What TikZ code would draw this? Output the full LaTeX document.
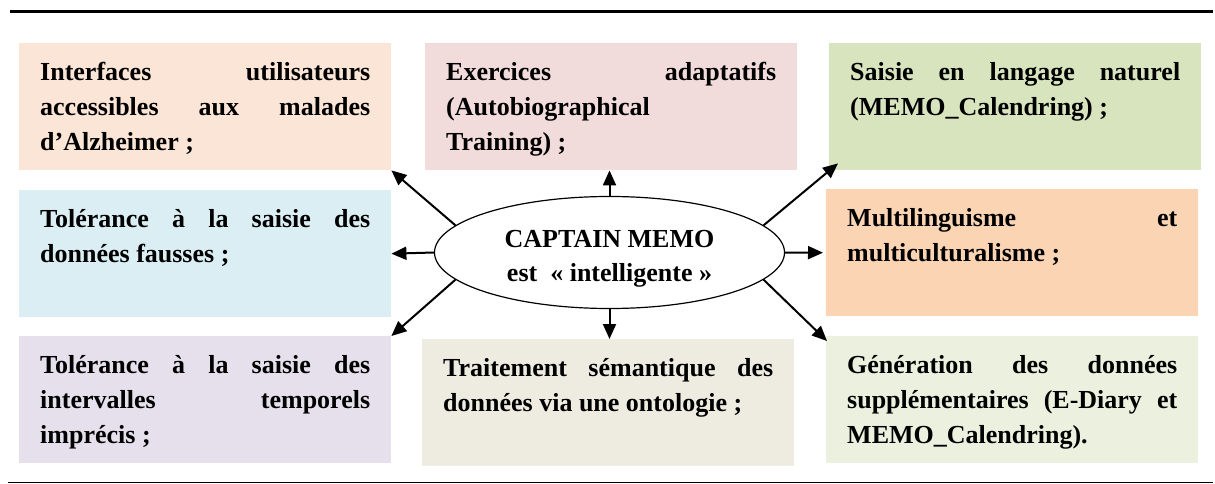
\documentclass[tikz,border=0pt]{standalone}
\usepackage{fontspec}
\setmainfont{Liberation Serif}
\usepackage{tikz}
\usetikzlibrary{positioning,calc}
\usetikzlibrary{arrows.meta,shapes.geometric}
\definecolor{PeachBox}{HTML}{FBE5D6}
\definecolor{RoseBox}{HTML}{F2DCDB}
\definecolor{OliveBox}{HTML}{D7E4BD}
\definecolor{SkyBox}{HTML}{DAEEF3}
\definecolor{OrangeBox}{HTML}{FBD4B4}
\definecolor{LilacBox}{HTML}{E5E0EC}
\definecolor{SandBox}{HTML}{EEECE1}
\definecolor{MintBox}{HTML}{EBF1DE}
\tikzset{
  feature/.style={anchor=north west,inner xsep=21pt,inner ysep=18pt,
    text width=330pt,align=justify,text height=19pt,text depth=72pt,
    font=\fontsize{26}{35}\selectfont\bfseries},
  core/.style={ellipse,draw=black,line width=1.2pt,fill=white,inner sep=0pt,
    minimum width=350pt,minimum height=112pt,align=center,text height=63pt,
    text depth=6pt,font=\fontsize{26}{34}\selectfont\bfseries},
  link/.style={draw=black,line width=2pt,-{Triangle[length=15pt,width=13pt]}},
}

\begin{document}
\begin{tikzpicture}[x=1pt,y=-1pt]
\useasboundingbox (0,0) rectangle (1215,484);
\draw[line width=3pt] (10,11.5) -- (1213,11.5);
\draw[line width=1.2pt] (8,482.5) -- (1213,482.5);
\node[feature,fill=PeachBox] (interfaces) at (19,43) {Interfaces utilisateurs\linebreak accessibles aux malades\linebreak d’Alzheimer ;};
\node[feature,fill=SkyBox] (fausses) at (19,190) {Tolérance à la saisie des\linebreak données fausses ;};
\node[feature,fill=LilacBox] (intervalles) at (19,336) {Tolérance à la saisie des\linebreak intervalles temporels\linebreak imprécis ;};
\node[feature,fill=RoseBox] (exercices) at (425,43) {Exercices adaptatifs\linebreak (Autobiographical\\ Training) ;};
\node[feature,fill=SandBox] (semantique) at (422,339) {Traitement sémantique des\linebreak données via une ontologie ;};
\node[feature,fill=OliveBox] (langage) at (829,43) {Saisie en langage naturel\linebreak (MEMO\_Calendring) ;};
\node[feature,fill=OrangeBox] (multi) at (826,189) {Multilinguisme et\linebreak multiculturalisme ;};
\node[feature,fill=MintBox] (generation) at (826,336) {Génération des données\linebreak supplémentaires (E-Diary et\linebreak MEMO\_Calendring).};
\node[core] (memo) at (609.5,252.5) {CAPTAIN MEMO\\est\ \ «~intelligente~»};
\draw[link] (memo.170) -- (interfaces.south east);
\draw[link] (memo.west) -- (fausses.east);
\draw[link] (memo.190) -- (intervalles.north east);
\draw[link] (memo.north) -- (memo.north |- exercices.south);
\draw[link] (memo.south) -- (memo.south |- semantique.north);
\draw[link] (memo.10) -- ([shift={(9,-7)}]langage.south west);
\draw[link] (memo.east) -- ([xshift=-3pt]multi.west);
\draw[link] (memo.350) -- ([shift={(1,5)}]generation.north west);
\end{tikzpicture}
\end{document}
